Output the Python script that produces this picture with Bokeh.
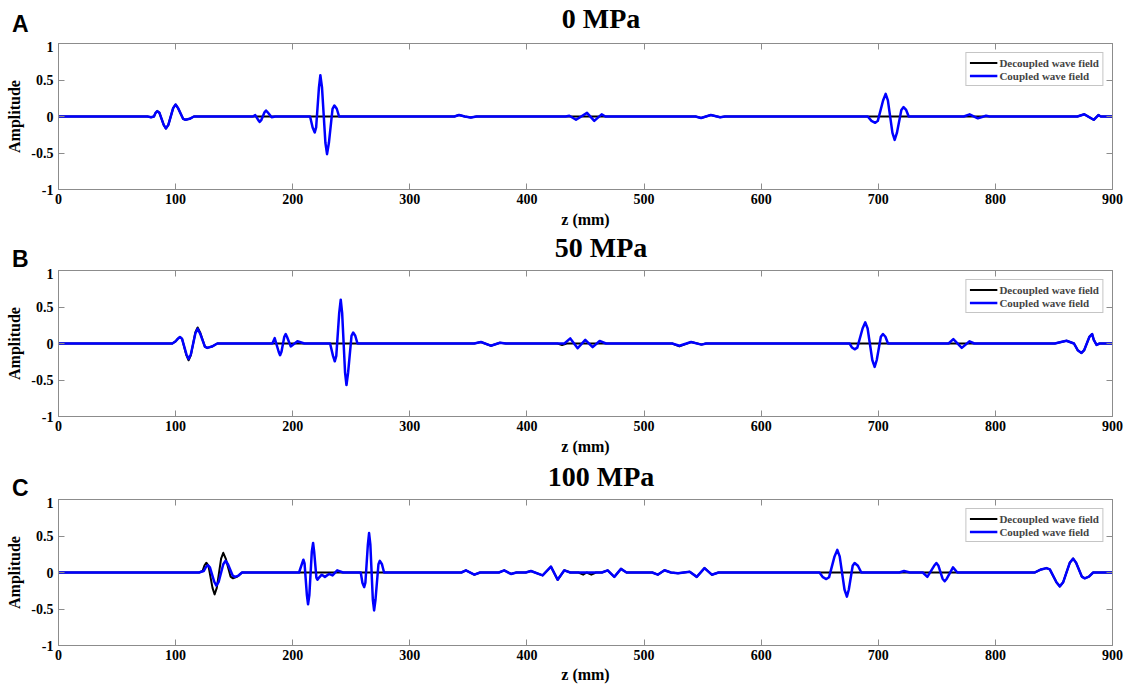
from bokeh.plotting import figure
from bokeh.models import LinearAxis, FixedTicker, Range1d, Legend, LegendItem, Div
from bokeh.layouts import column
from bokeh.embed import file_html
from bokeh.resources import INLINE

# ---------------- data (z in mm, amplitude) ----------------
X_TICKS = [0, 100, 200, 300, 400, 500, 600, 700, 800, 900]
Y_TICKS = [-1, -0.5, 0, 0.5, 1]
Y_TICK_LABELS = ["-1", "-0.5", "0", "0.5", "1"]
PANEL_LETTERS = ["A", "B", "C"]
PANEL_TITLES = ["0 MPa", "50 MPa", "100 MPa"]
SERIES_NAMES = ["Decoupled wave field", "Coupled wave field"]

A_COUPLED = [
    (0, 0), (76, 0), (79, -0.01), (81.5, 0), (82.9, 0.05), (84.3, 0.073), (86.2, 0.05),
    (89.85, -0.115), (91.7, -0.164), (93.8, -0.115), (97.9, 0.115), (100, 0.164), (102.1, 0.115),
    (106.4, -0.032), (108.5, -0.045), (112, -0.032), (115.6, 0),
    (166, 0), (168, 0.02), (170.6, -0.05), (171.8, -0.073), (173.1, -0.05), (175.9, 0.058),
    (177.2, 0.082), (178.6, 0.058), (182, -0.01), (185, 0),
    (214.8, 0), (217.0, -0.15), (218.8, -0.219), (220.0, -0.15), (222.4, 0.4), (223.6, 0.566),
    (225.0, 0.4), (227.9, -0.36), (229.3, -0.516), (230.9, -0.36), (234.0, 0.106), (235.6, 0.151),
    (237.6, 0.106), (239.6, 0),
    (338, 0), (342, 0.02), (347, 0), (352, -0.015), (357, 0),
    (433, 0), (436.2, 0.01), (441.9, -0.045), (451.3, 0.05), (457.5, -0.06), (463.8, 0.03), (467, 0),
    (544, 0), (548.7, -0.02), (557, 0.02), (565, -0.01), (569, 0),
    (691, 0), (694.2, -0.06), (697.4, -0.087), (699.6, -0.06), (704.1, 0.22), (706.3, 0.31),
    (708.2, 0.22), (712.1, -0.225), (714, -0.32), (715.9, -0.225), (719.7, 0.09), (721.6, 0.128),
    (723.8, 0.09), (726, 0),
    (773, 0), (778, 0.03), (785, -0.025), (792, 0.01), (795, 0),
    (870, 0), (876, 0.03), (884, -0.045), (888, 0.02), (890, 0), (900, 0),
]
A_DECOUPLED = [
    (0, 0), (76, 0), (79, -0.01), (81.5, 0), (82.9, 0.05), (84.3, 0.073), (86.2, 0.05),
    (89.85, -0.115), (91.7, -0.164), (93.8, -0.115), (97.9, 0.115), (100, 0.164), (102.1, 0.115),
    (106.4, -0.032), (108.5, -0.045), (112, -0.032), (115.6, 0),
    (338, 0), (342, 0.02), (347, 0), (352, -0.015), (357, 0),
    (544, 0), (548.7, -0.02), (557, 0.02), (565, -0.01), (569, 0),
    (870, 0), (876, 0.03), (884, -0.045), (888, 0.02), (890, 0), (900, 0),
]

B_COUPLED = [
    (0, 0), (97.2, 0), (100, 0.03), (101.8, 0.064), (103.7, 0.09), (105.5, 0.064),
    (109.25, -0.15), (111.1, -0.21), (113.0, -0.15), (116.9, 0.14), (118.8, 0.2), (120.85, 0.14),
    (125, -0.042), (127, -0.06), (131, -0.042), (135.6, 0),
    (182.6, 0), (184.6, 0.073), (188.0, -0.113), (189.2, -0.16), (190.4, -0.113), (192.8, 0.092),
    (194, 0.13), (195.1, 0.092), (198.3, -0.04), (204, 0.03), (210, 0),
    (231.9, 0), (234.4, -0.17), (235.9, -0.244), (237.2, -0.17), (239.7, 0.42), (241, 0.6),
    (242.2, 0.42), (244.7, -0.4), (245.9, -0.57), (247.3, -0.4), (250.2, 0.106), (251.6, 0.15),
    (253.4, 0.106), (255.3, 0),
    (355, 0), (360.7, 0.02), (369.2, -0.03), (377, 0.01), (382, 0),
    (432, 0), (437, 0.07), (443.3, -0.065), (449.8, 0.05), (456.1, -0.05), (462.1, 0.035), (467.5, 0),
    (524, 0), (530.2, -0.03), (540.2, 0.02), (549, -0.015), (553, 0),
    (675.5, 0), (677.6, -0.056), (679.8, -0.08), (682.1, -0.056), (686.6, 0.205), (688.9, 0.29),
    (690.9, 0.205), (694.9, -0.226), (696.9, -0.32), (698.7, -0.226), (702.2, 0.092), (704, 0.13),
    (706.1, 0.092), (708.3, 0),
    (760, 0), (764.1, 0.06), (771.3, -0.06), (778, 0.03), (782, 0),
    (850.7, 0), (860.7, 0.037), (867.1, 0), (870.3, -0.092), (873.5, -0.13), (875.8, -0.092),
    (880.3, 0.092), (882.6, 0.13), (884, 0.05), (886.4, -0.02), (889, 0), (900, 0),
]
B_DECOUPLED = [
    (0, 0), (97.2, 0), (100, 0.03), (101.8, 0.064), (103.7, 0.09), (105.5, 0.064),
    (109.25, -0.163), (111.1, -0.23), (113.0, -0.163), (116.9, 0.155), (118.8, 0.22), (120.85, 0.155),
    (125, -0.042), (127, -0.06), (131, -0.042), (135.6, 0),
    (355, 0), (360.7, 0.02), (369.2, -0.03), (377, 0.01), (382, 0),
    (426, 0), (430, -0.02), (434, 0),
    (524, 0), (530.2, -0.04), (540.2, 0.02), (549, -0.015), (553, 0),
    (850.7, 0), (860.7, 0.037), (867.1, 0), (870.3, -0.092), (873.5, -0.13), (875.8, -0.092),
    (880.3, 0.092), (882.6, 0.13), (884, 0.05), (886.4, -0.02), (889, 0), (900, 0),
]

C_COUPLED = [
    (0, 0), (120, 0), (124, 0.02), (125.7, 0.07), (127.5, 0.1), (129.3, 0.07), (133.0, -0.127),
    (134.8, -0.18), (136.8, -0.127), (140.7, 0.113), (142.7, 0.16), (144.7, 0.113),
    (148.7, -0.042), (150.7, -0.06), (153.7, -0.042), (156.7, 0),
    (205.4, 0), (208, 0.124), (209.1, 0.175), (210.1, 0.124), (212.1, -0.31), (213.1, -0.435),
    (214.2, -0.31), (216.3, 0.285), (217.4, 0.405), (218.3, 0.285), (220.2, -0.07), (221.1, -0.1),
    (222.5, -0.07), (224.8, -0.03), (227.5, -0.06), (231, -0.02), (234, -0.04), (238, 0.03), (243, 0),
    (258.1, 0), (259.5, -0.14), (261, -0.2), (262.05, -0.14), (264.15, 0.38), (265.2, 0.54),
    (266.3, 0.38), (268.4, -0.37), (269.5, -0.52), (270.7, -0.37), (273.2, 0.113), (274.4, 0.16),
    (276.2, 0.113), (278, 0),
    (344, 0), (347.9, 0.03), (355, -0.03), (360, 0),
    (376, 0), (380.6, 0.03), (386.3, -0.02), (391, 0),
    (399, 0), (403.4, 0.02), (413.4, -0.04), (420.5, 0.08), (426.2, -0.1), (431.9, 0.03), (437, 0),
    (464, 0), (468.9, 0.03), (474.6, -0.06), (480.3, 0.05), (485, 0),
    (507, 0), (511.7, -0.03), (517.4, 0.03), (523, 0), (529, -0.01), (539, 0.01), (545, -0.06),
    (551.6, 0.06), (557.9, -0.03), (563.6, 0),
    (649.8, 0), (652.7, -0.064), (655.6, -0.09), (658, -0.064), (662.65, 0.22), (665, 0.31),
    (667.05, 0.22), (671.15, -0.233), (673.2, -0.33), (674.85, -0.233), (678.15, 0.092),
    (679.8, 0.13), (682.6, 0.092), (685.5, 0),
    (718, 0), (722, 0.02), (727, 0),
    (738, 0), (741.9, -0.06), (747.7, 0.092), (749.6, 0.13), (751.4, 0.092), (754.9, -0.085),
    (756.7, -0.12), (758.5, -0.085), (763.8, 0.07), (767.5, 0),
    (833.6, 0), (839, 0.042), (843.6, 0.06), (846.5, 0.042), (852.15, -0.134), (855, -0.19),
    (857.85, -0.134), (863.55, 0.134), (866.4, 0.19), (868.9, 0.134), (873.8, -0.056),
    (876.3, -0.08), (879.9, -0.056), (883.5, 0), (900, 0),
]
C_DECOUPLED = [
    (0, 0), (120, 0), (123, 0.02), (124.6, 0.095), (126.2, 0.134), (128, 0.095), (131.5, -0.21),
    (133.3, -0.3), (135.15, -0.21), (138.85, 0.19), (140.7, 0.27), (142.8, 0.19),
    (146.9, -0.056), (149, -0.08), (152.8, -0.056), (156.7, 0),
    (344, 0), (347.9, 0.03), (355, -0.03), (360, 0),
    (376, 0), (380.6, 0.03), (386.3, -0.02), (391, 0),
    (399, 0), (403.4, 0.02), (413.4, -0.04), (420.5, 0.08), (426.2, -0.1), (431.9, 0.03), (437, 0),
    (444, 0), (448, -0.03), (451, 0), (455, -0.03), (459, 0),
    (464, 0), (468.9, 0.03), (474.6, -0.06), (480.3, 0.05), (485, 0),
    (507, 0), (511.7, -0.03), (517.4, 0.03), (523, 0), (529, -0.01), (539, 0.01), (545, -0.06),
    (551.6, 0.06), (557.9, -0.03), (563.6, 0),
    (833.6, 0), (839, 0.042), (843.6, 0.06), (846.5, 0.042), (852.15, -0.134), (855, -0.19),
    (857.85, -0.134), (863.55, 0.134), (866.4, 0.19), (868.9, 0.134), (873.8, -0.056),
    (876.3, -0.08), (879.9, -0.056), (883.5, 0), (900, 0),
]

PANELS = [(A_DECOUPLED, A_COUPLED), (B_DECOUPLED, B_COUPLED), (C_DECOUPLED, C_COUPLED)]

# ---------------- styling ----------------
SERIF = "Liberation Serif"
GRAY = "#8c8c8c"
W = 1124
HEAD_H = [41, 33, 35]
FRAME_H = 146
TOP = 2
BOTTOMS = [46, 46, 41]
LEFT = 58
RIGHT = W - 1112
LETTER_TOP = [13, 13, 15]
TITLE_TOP = [5, -1, 1]


def style_axis(ax, labels=True):
    ax.axis_line_color = GRAY
    ax.major_tick_line_color = GRAY
    ax.major_tick_in = 6
    ax.major_tick_out = 0
    ax.minor_tick_line_color = None
    if labels:
        ax.major_label_text_font = SERIF
        ax.major_label_text_font_style = "bold"
        ax.major_label_text_font_size = "14px"
        ax.major_label_text_color = "black"
        ax.axis_label_text_font = SERIF
        ax.axis_label_text_font_style = "bold"
        ax.axis_label_text_font_size = "16px"
        ax.axis_label_text_color = "black"
    else:
        ax.major_label_text_font_size = "1px"
        ax.major_label_text_color = None
        ax.major_label_standoff = 0


def header(letter, title, h, letter_top, title_top):
    html = (
        '<div style="position:relative;width:%dpx;height:%dpx;">'
        '<span style="position:absolute;left:12px;top:%dpx;line-height:1;'
        'font-family:\'Liberation Sans\';font-weight:bold;font-size:23px;color:black;">%s</span>'
        '<span style="position:absolute;left:601px;top:%dpx;line-height:1;transform:translateX(-50%%);'
        'white-space:nowrap;font-family:\'Liberation Serif\';font-weight:bold;font-size:28px;color:black;">%s</span>'
        '</div>' % (W, h, letter_top, letter, title_top, title)
    )
    return Div(text=html, width=W, height=h, margin=0)


items = []
for i, (dec, cou) in enumerate(PANELS):
    h = TOP + FRAME_H + BOTTOMS[i]
    p = figure(width=W, height=h, output_backend="svg", toolbar_location=None,
               x_range=Range1d(0, 900), y_range=Range1d(-1, 1),
               min_border_left=LEFT, min_border_right=RIGHT,
               min_border_top=TOP, min_border_bottom=BOTTOMS[i])
    p.outline_line_color = GRAY
    p.grid.visible = False
    p.background_fill_color = "white"

    p.xaxis.ticker = FixedTicker(ticks=X_TICKS)
    p.yaxis.ticker = FixedTicker(ticks=Y_TICKS)
    p.yaxis.major_label_overrides = {t: s for t, s in zip(Y_TICKS, Y_TICK_LABELS)}
    p.xaxis.axis_label = "z (mm)"
    p.yaxis.axis_label = "Amplitude"
    style_axis(p.xaxis[0])
    style_axis(p.yaxis[0])
    p.xaxis.major_label_standoff = 4
    p.yaxis.major_label_standoff = 5
    p.xaxis.axis_label_standoff = 4 if i < 2 else 3
    p.yaxis.axis_label_standoff = 5

    top_ax = LinearAxis(ticker=FixedTicker(ticks=X_TICKS))
    style_axis(top_ax, labels=False)
    p.add_layout(top_ax, "above")
    right_ax = LinearAxis(ticker=FixedTicker(ticks=Y_TICKS))
    style_axis(right_ax, labels=False)
    p.add_layout(right_ax, "right")

    dz = [pt[0] for pt in dec]
    da = [pt[1] for pt in dec]
    cz = [pt[0] for pt in cou]
    ca = [pt[1] for pt in cou]
    r_dec = p.line(dz, da, line_color="black", line_width=2, line_join="round")
    r_cou = p.line(cz, ca, line_color="#0000ff", line_width=2.5, line_join="round")

    legend = Legend(items=[LegendItem(label=SERIES_NAMES[0], renderers=[r_dec]),
                           LegendItem(label=SERIES_NAMES[1], renderers=[r_cou])],
                    location="top_right")
    legend.margin = 9
    legend.padding = 3
    legend.spacing = 0
    legend.border_line_color = GRAY
    legend.border_line_width = 1
    legend.background_fill_alpha = 1
    legend.label_text_font = SERIF
    legend.label_text_font_style = "bold"
    legend.label_text_font_size = "11px"
    legend.label_height = 13
    legend.glyph_height = 13
    legend.glyph_width = 28
    legend.label_standoff = 2
    p.add_layout(legend)

    items.append(header(PANEL_LETTERS[i], PANEL_TITLES[i], HEAD_H[i],
                        LETTER_TOP[i], TITLE_TOP[i]))
    items.append(p)

layout = column(*items, spacing=0)
open("out.html", "w").write(file_html(layout, INLINE))
